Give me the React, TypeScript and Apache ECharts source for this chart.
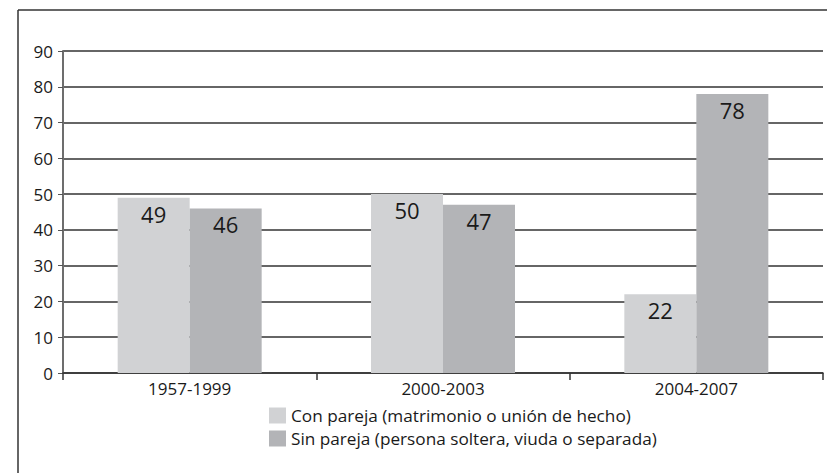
import React, { useEffect, useRef } from "react";
import * as echarts from "echarts";

const categories = ["1957-1999", "2000-2003", "2004-2007"];
const seriesNames = [
  "Con pareja (matrimonio o unión de hecho)",
  "Sin pareja (persona soltera, viuda o separada)",
];
const conPareja = [49, 50, 22];
const sinPareja = [46, 47, 78];
const yTicks = { min: 0, max: 90, interval: 10 };

const FONT = "Open Sans";

export default function App() {
  const ref = useRef<HTMLDivElement>(null);
  useEffect(() => {
    if (!ref.current) return;
    const chart = echarts.init(ref.current, undefined, { renderer: "svg" });
    const label = {
      show: true,
      position: "insideTop" as const,
      distance: 5,
      color: "#1a1a1a",
      fontSize: 22,
      fontFamily: FONT,
    };
    chart.setOption({
      animation: false,
      backgroundColor: "#ffffff",
      grid: { left: 63, right: 4, top: 51, bottom: 100, containLabel: false },
      graphic: [
        {
          type: "line",
          shape: { x1: 18, y1: 10, x2: 827, y2: 10 },
          style: { stroke: "#333", lineWidth: 1.5 },
          silent: true,
        },
        {
          type: "line",
          shape: { x1: 18, y1: 10, x2: 18, y2: 473 },
          style: { stroke: "#333", lineWidth: 1.5 },
          silent: true,
        },
      ],
      legend: {
        orient: "vertical",
        left: 264,
        top: 402,
        itemWidth: 17,
        itemHeight: 16,
        itemGap: 6,
        icon: "rect",
        textStyle: { fontFamily: FONT, fontSize: 17.2, color: "#1a1a1a" },
        data: seriesNames,
      },
      xAxis: {
        type: "category",
        data: categories,
        axisLine: { lineStyle: { color: "#333", width: 1.5 } },
        axisTick: { show: true, length: 7, lineStyle: { color: "#333", width: 1.5 } },
        axisLabel: { fontFamily: FONT, fontSize: 17, color: "#1a1a1a", margin: 7 },
      },
      yAxis: {
        type: "value",
        min: yTicks.min,
        max: yTicks.max,
        interval: yTicks.interval,
        axisLine: { show: true, lineStyle: { color: "#6d6d6d", width: 2 } },
        axisTick: { show: true, length: 5, lineStyle: { color: "#555", width: 1 } },
        axisLabel: { fontFamily: FONT, fontSize: 17, color: "#1a1a1a", margin: 10 },
        splitLine: { show: true, lineStyle: { color: "#333", width: 1.5 } },
      },
      series: [
        {
          name: seriesNames[0],
          type: "bar",
          data: conPareja,
          barWidth: 72,
          barGap: "0%",
          itemStyle: { color: "#d1d2d4" },
          label,
        },
        {
          name: seriesNames[1],
          type: "bar",
          data: sinPareja,
          barWidth: 72,
          barGap: "0%",
          itemStyle: { color: "#b3b4b7" },
          label,
        },
      ],
    });
    return () => chart.dispose();
  }, []);
  return <div ref={ref} style={{ width: 827, height: 473, position: "absolute", left: 0, top: 0 }} />;
}
